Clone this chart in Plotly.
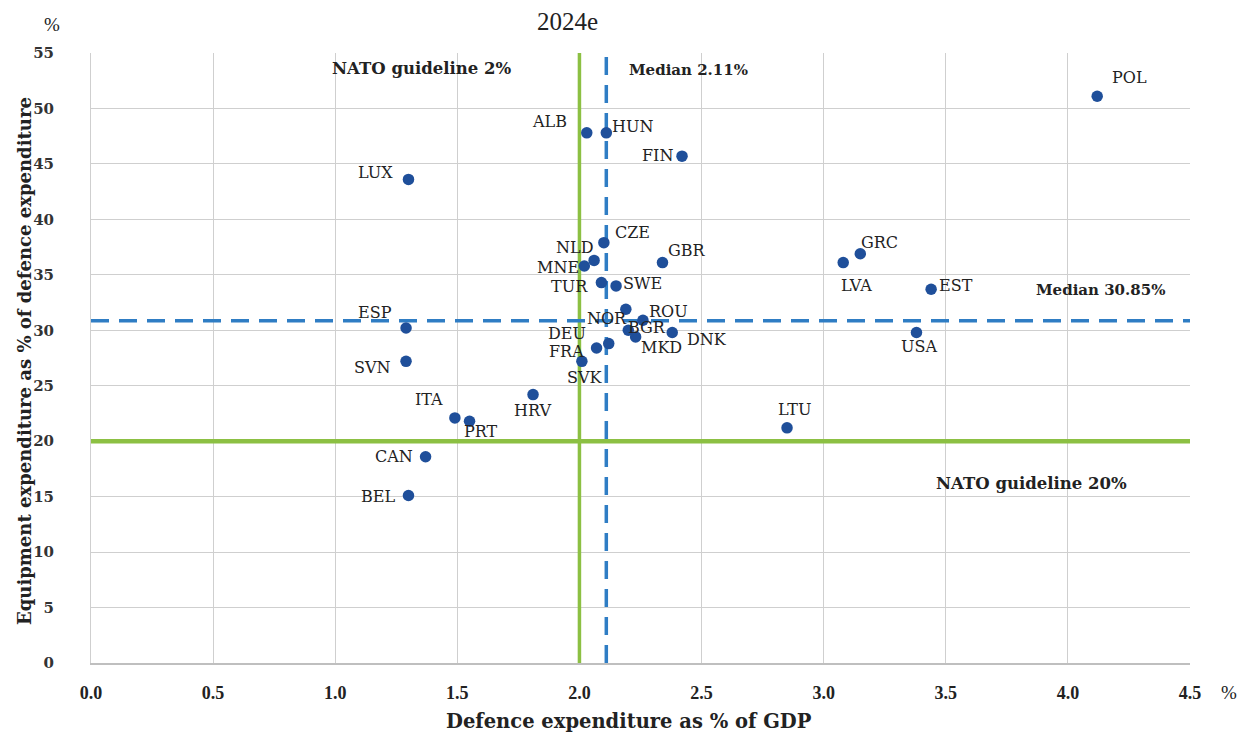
import plotly.graph_objects as go

countries = ["POL", "ALB", "HUN", "FIN", "LUX", "CZE", "NLD", "MNE", "GBR", "TUR",
             "SWE", "NOR", "ROU", "BGR", "MKD", "DNK", "DEU", "FRA", "SVK", "HRV",
             "ESP", "SVN", "ITA", "PRT", "CAN", "BEL", "LTU", "LVA", "GRC", "EST", "USA"]
defence_gdp = [4.12, 2.03, 2.11, 2.42, 1.30, 2.10, 2.06, 2.02, 2.34, 2.09,
               2.15, 2.19, 2.26, 2.20, 2.23, 2.38, 2.12, 2.07, 2.01, 1.81,
               1.29, 1.29, 1.49, 1.55, 1.37, 1.30, 2.85, 3.08, 3.15, 3.44, 3.38]
equipment_share = [51.1, 47.8, 47.8, 45.7, 43.6, 37.9, 36.3, 35.8, 36.1, 34.3,
                   34.0, 31.9, 30.9, 30.0, 29.4, 29.8, 28.8, 28.4, 27.2, 24.2,
                   30.2, 27.2, 22.1, 21.8, 18.6, 15.1, 21.2, 36.1, 36.9, 33.7, 29.8]

nato_gdp_guideline = 2.0
nato_equipment_guideline = 20.0
median_gdp = 2.11
median_equipment = 30.85

x_ticks = [0.0, 0.5, 1.0, 1.5, 2.0, 2.5, 3.0, 3.5, 4.0, 4.5]
y_ticks = [0, 5, 10, 15, 20, 25, 30, 35, 40, 45, 50, 55]

title_text = "2024e"
x_title = "Defence expenditure as % of GDP"
y_title = "Equipment expenditure as % of defence expenditure"

# label offsets in pixels (dx right, dy down) relative to each point
label_offsets = {
    "POL": (32, -19), "ALB": (-37, -11), "HUN": (26, -6), "FIN": (-25, -1),
    "LUX": (-33, -7), "CZE": (29, -10), "NLD": (-20, -13), "MNE": (-26, 2),
    "GBR": (25, -12), "TUR": (-32, 4), "SWE": (26, -2), "NOR": (-19, 9),
    "ROU": (26, -9), "BGR": (19, -3), "MKD": (26, 11), "DNK": (35, 7),
    "DEU": (-42, -10), "FRA": (-30, 3), "SVK": (3, 16), "HRV": (-1, 16),
    "ESP": (-31, -16), "SVN": (-34, 6), "ITA": (-26, -18), "PRT": (11, 10),
    "CAN": (-32, 0), "BEL": (-30, 1), "LTU": (7, -18), "LVA": (13, 23),
    "GRC": (19, -11), "EST": (25, -4), "USA": (3, 14),
}

WIDE = "DejaVu Serif, Liberation Serif, serif"
NARROW = "Liberation Serif, DejaVu Serif, serif"
GREEN = "#8cc043"
BLUE = "#2f7dc4"
DOT = "#1f4f9a"
INK = "#222222"

# page body has an 8px margin; plot area spans x 91..1190, y 53..663 in the window
W, H = 1236, 726
L, R, T, B = 83, 54, 45, 71
PW, PH = W - L - R, H - T - B


def px_to_paper(px, py):
    return ((px - 8 - L) / PW, 1 - (py - 8 - T) / PH)


fig = go.Figure()

fig.add_trace(go.Scatter(x=[nato_gdp_guideline, nato_gdp_guideline], y=[y_ticks[0], y_ticks[-1]],
                         mode="lines", line=dict(color=GREEN, width=3.5), hoverinfo="skip", showlegend=False))
fig.add_trace(go.Scatter(x=[x_ticks[0], x_ticks[-1]], y=[nato_equipment_guideline, nato_equipment_guideline],
                         mode="lines", line=dict(color=GREEN, width=4.5), hoverinfo="skip", showlegend=False))
fig.add_trace(go.Scatter(x=[median_gdp, median_gdp], y=[y_ticks[0], y_ticks[-1]],
                         mode="lines", line=dict(color=BLUE, width=3.5, dash="18px,10px"),
                         hoverinfo="skip", showlegend=False))
fig.add_trace(go.Scatter(x=[x_ticks[0], x_ticks[-1]], y=[median_equipment, median_equipment],
                         mode="lines", line=dict(color=BLUE, width=3.5, dash="18px,10px"),
                         hoverinfo="skip", showlegend=False))

fig.add_trace(go.Scatter(x=defence_gdp, y=equipment_share, mode="markers",
                         marker=dict(color=DOT, size=11.5), text=countries, showlegend=False))

annotations = []
for c, xv, yv in zip(countries, defence_gdp, equipment_share):
    dx, dy = label_offsets[c]
    annotations.append(dict(x=xv, y=yv, xref="x", yref="y", text=c, showarrow=False,
                            xanchor="center", yanchor="middle", xshift=dx, yshift=-dy,
                            font=dict(family=WIDE, size=16, color=INK)))

nato_note = dict(family=WIDE, size=16.5, color=INK)
median_note = dict(family=WIDE, size=15, color=INK)
for xv, yv, txt, fnt in [(1.355, 53.6, "NATO guideline 2%", nato_note),
                         (2.445, 53.5, "Median 2.11%", median_note),
                         (4.132, 33.6, "Median 30.85%", median_note),
                         (3.850, 16.2, "NATO guideline 20%", nato_note)]:
    annotations.append(dict(x=xv, y=yv, xref="x", yref="y", text=f"<b>{txt}</b>", showarrow=False,
                            xanchor="center", yanchor="middle", font=fnt))


def paper_note(px, py, text, font, **kw):
    ax, ay = px_to_paper(px, py)
    annotations.append(dict(x=ax, y=ay, xref="paper", yref="paper", text=text, showarrow=False,
                            xanchor="center", yanchor="middle", font=font, **kw))


paper_note(567, 22, title_text, dict(family=NARROW, size=25, color=INK))
paper_note(52, 25, "%", dict(family=NARROW, size=19, color=INK))
paper_note(1229, 692, "%", dict(family=NARROW, size=19, color=INK))
paper_note(629, 721, f"<b>{x_title}</b>", dict(family=WIDE, size=19.5, color=INK))
paper_note(24, 361, f"<b>{y_title}</b>", dict(family=WIDE, size=18, color=INK), textangle=-90)

fig.update_layout(
    width=W, height=H,
    paper_bgcolor="white", plot_bgcolor="white",
    margin=dict(l=L, r=R, t=T, b=B),
    font=dict(family=NARROW, color=INK),
    annotations=annotations,
)
fig.update_xaxes(range=[x_ticks[0], x_ticks[-1]], tickvals=x_ticks,
                 ticktext=[f"<b>{v:.1f}</b>" for v in x_ticks],
                 tickfont=dict(family=NARROW, size=18, color=INK), showgrid=True, gridcolor="#cfcfcf",
                 gridwidth=1, showline=True, linecolor="#bfbfbf", linewidth=1.5, zeroline=False, ticks="",
                 ticklabelstandoff=13)
fig.update_yaxes(range=[y_ticks[0], y_ticks[-1]], tickvals=y_ticks,
                 ticktext=[f"<b>{v}</b>" for v in y_ticks],
                 tickfont=dict(family=WIDE, size=15, color="#333333"), showgrid=True, gridcolor="#cfcfcf",
                 gridwidth=1, showline=True, linecolor="#cfcfcf", linewidth=1, zeroline=False, ticks="",
                 ticklabelstandoff=33)

fig.write_html("out.html")
